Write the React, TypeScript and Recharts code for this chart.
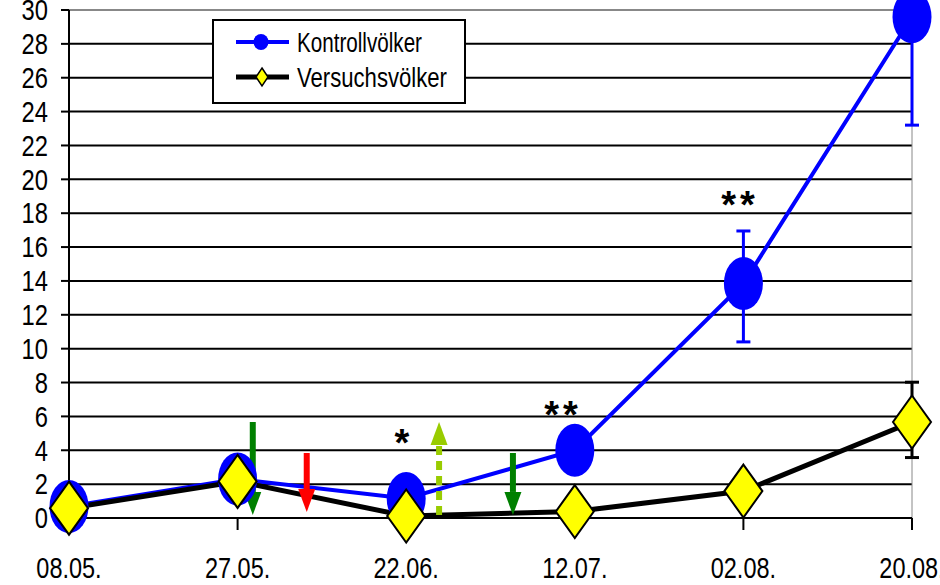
import React from 'react';
import {
  ComposedChart,
  Line,
  XAxis,
  YAxis,
  CartesianGrid,
  ErrorBar,
  ReferenceLine,
  ReferenceDot,
  Legend,
} from 'recharts';

const categories = ['08.05.', '27.05.', '22.06.', '12.07.', '02.08.', '20.08.'];
const kontroll = [0.68, 2.3, 1.15, 4.0, 13.85, 29.6];
const kontrollErr: ([number, number] | null)[] = [null, null, null, null, [3.45, 3.1], [6.4, 0]];
const versuch = [0.58, 2.16, 0.12, 0.38, 1.59, 5.67];
const versuchErr: ([number, number] | null)[] = [null, null, null, null, null, [2.1, 2.35]];
const yTicks = [0, 2, 4, 6, 8, 10, 12, 14, 16, 18, 20, 22, 24, 26, 28, 30];

// treatment arrows: x position (category index scale), start value, end value
const arrows = [
  { x: 1.09, from: 5.67, to: 0.18, color: '#008000', dashed: false },
  { x: 1.41, from: 3.84, to: 0.35, color: '#FF0000', dashed: false },
  { x: 2.195, from: 0.18, to: 5.67, color: '#99CC00', dashed: true },
  { x: 2.633, from: 3.84, to: 0.18, color: '#008000', dashed: false },
];

// significance marks
const marks = [
  { x: 1.975, y: 4.9, text: '*' },
  { x: 2.93, y: 6.56, text: '**' },
  { x: 3.98, y: 18.96, text: '**' },
];

const data = categories.map((c, i) => ({
  x: i,
  label: c,
  kontroll: kontroll[i],
  kontrollErr: kontrollErr[i],
  versuch: versuch[i],
  versuchErr: versuchErr[i],
}));

const FONT = "'Liberation Sans', Arial, sans-serif";

const XTick = (props: any) => {
  const { x, y, payload } = props;
  const label = categories[payload.value];
  return (
    <text
      x={x}
      y={y}
      dy="0.71em"
      textAnchor="middle"
      fontFamily={FONT}
      fontSize={29}
      fill="#000"
      transform={`translate(${x} 0) scale(0.81 1) translate(${-x} 0)`}
    >
      {label}
    </text>
  );
};

const YTick = (props: any) => {
  const { x, y, payload } = props;
  return (
    <text
      x={x}
      y={y}
      dy="0.355em"
      textAnchor="end"
      fontFamily={FONT}
      fontSize={29}
      fill="#000"
      transform={`translate(${x} 0) scale(0.82 1) translate(${-x} 0)`}
    >
      {payload.value}
    </text>
  );
};

const BlueDot = (props: any) => {
  const { cx, cy } = props;
  if (cx == null || cy == null) return null;
  return <ellipse cx={cx} cy={cy} rx={19.5} ry={26.5} fill="#0000FF" />;
};

const Diamond = (props: any) => {
  const { cx, cy } = props;
  if (cx == null || cy == null) return null;
  const w = 19;
  const h = 26.5;
  return (
    <polygon
      points={`${cx},${cy - h} ${cx + w},${cy} ${cx},${cy + h} ${cx - w},${cy}`}
      fill="#FFFF00"
      stroke="#000"
      strokeWidth={2}
      strokeLinejoin="miter"
    />
  );
};

const makeArrow = (color: string, dashed: boolean) => (props: any) => {
  const { x1, y1, x2, y2 } = props;
  if (x1 == null || y1 == null) return null;
  const dir = y2 > y1 ? 1 : -1;
  const headLen = 23;
  const headHalf = 8.5;
  const shaftEnd = y2 - dir * headLen;
  return (
    <g>
      <line
        x1={x1}
        y1={y1}
        x2={x2}
        y2={shaftEnd}
        stroke={color}
        strokeWidth={6}
        strokeDasharray={dashed ? '9 6' : undefined}
      />
      <polygon
        points={`${x2 - headHalf},${shaftEnd} ${x2 + headHalf},${shaftEnd} ${x2},${y2}`}
        fill={color}
      />
    </g>
  );
};

const makeMark = (text: string) => (props: any) => {
  const { cx, cy } = props;
  if (cx == null || cy == null) return null;
  return (
    <text
      x={cx}
      y={cy + 21}
      textAnchor="middle"
      fontFamily={FONT}
      fontWeight="bold"
      fontSize={38}
      letterSpacing={text.length > 1 ? 4 : 0}
      fill="#000"
    >
      {text}
    </text>
  );
};

const LegendBox = () => (
  <div
    style={{
      width: 254,
      height: 85,
      border: '2px solid #000',
      background: '#fff',
      boxSizing: 'border-box',
      position: 'relative',
    }}
  >
    <svg width={250} height={81} style={{ position: 'absolute', left: 0, top: 0 }}>
      <line x1={22} y1={21} x2={75} y2={21} stroke="#0000FF" strokeWidth={4} />
      <ellipse cx={47} cy={21} rx={7.5} ry={8} fill="#0000FF" />
      <text
        x={83}
        y={31}
        fontFamily={FONT}
        fontSize={27}
        fill="#000"
        textLength={125}
        lengthAdjust="spacingAndGlyphs"
      >
        Kontrollvölker
      </text>
      <line x1={22} y1={56} x2={75} y2={56} stroke="#000" strokeWidth={5} />
      <polygon points="48,47 54,56 48,65 42,56" fill="#FFFF00" stroke="#000" strokeWidth={1.5} />
      <text
        x={83}
        y={66}
        fontFamily={FONT}
        fontSize={27}
        fill="#000"
        textLength={150}
        lengthAdjust="spacingAndGlyphs"
      >
        Versuchsvölker
      </text>
    </svg>
  </div>
);

export default function App() {
  return (
    <div style={{ position: 'absolute', left: 0, top: 0, width: 940, height: 585, background: '#fff' }}>
      <ComposedChart
        width={940}
        height={585}
        data={data}
        margin={{ top: 10, right: 28, left: 0, bottom: 0 }}
      >
        <CartesianGrid vertical={false} stroke="#000" strokeWidth={2} />
        <XAxis
          dataKey="x"
          type="number"
          domain={[0, 5]}
          ticks={[0, 1, 2, 3, 4, 5]}
          interval={0}
          height={67}
          tickSize={12}
          tickMargin={27}
          axisLine={{ stroke: '#000', strokeWidth: 2 }}
          tickLine={{ stroke: '#000', strokeWidth: 2 }}
          tick={<XTick />}
        />
        <YAxis
          type="number"
          domain={[0, 30]}
          ticks={yTicks}
          interval={0}
          width={69}
          tickSize={8}
          tickMargin={13}
          axisLine={{ stroke: '#000', strokeWidth: 2 }}
          tickLine={{ stroke: '#000', strokeWidth: 2 }}
          tick={<YTick />}
        />
        <ReferenceLine y={30} stroke="#888" strokeWidth={2} />
        <ReferenceLine x={5} stroke="#888" strokeWidth={1} />
        <Legend
          content={() => <LegendBox />}
          layout="vertical"
          align="center"
          verticalAlign="middle"
          wrapperStyle={{ left: 212, top: 19, width: 254, height: 85 }}
        />
        <Line
          dataKey="kontroll"
          stroke="#0000FF"
          strokeWidth={4}
          dot={<BlueDot />}
          activeDot={false}
          isAnimationActive={false}
        >
          <ErrorBar dataKey="kontrollErr" stroke="#0000FF" strokeWidth={3} width={7} />
        </Line>
        <Line
          dataKey="versuch"
          stroke="#000"
          strokeWidth={5}
          dot={<Diamond />}
          activeDot={false}
          isAnimationActive={false}
        >
          <ErrorBar dataKey="versuchErr" stroke="#000" strokeWidth={3} width={7} />
        </Line>
        {arrows.map((a, i) => (
          <ReferenceLine
            key={'arrow' + i}
            segment={[
              { x: a.x, y: a.from },
              { x: a.x, y: a.to },
            ]}
            stroke={a.color}
            shape={makeArrow(a.color, a.dashed)}
          />
        ))}
        {marks.map((m, i) => (
          <ReferenceDot key={'mark' + i} x={m.x} y={m.y} r={0} shape={makeMark(m.text)} />
        ))}
      </ComposedChart>
    </div>
  );
}
